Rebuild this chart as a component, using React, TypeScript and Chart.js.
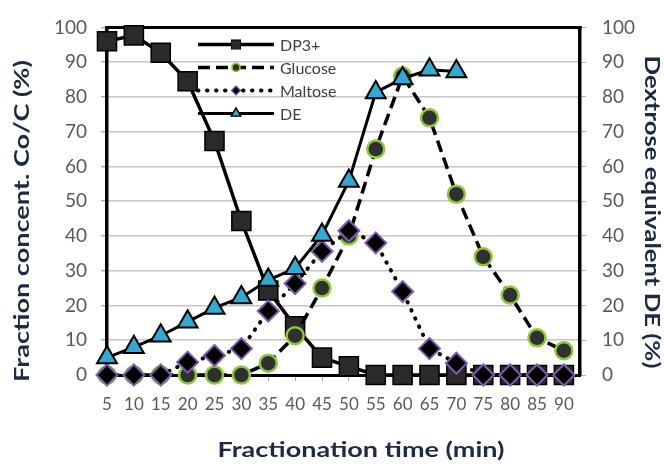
import { useEffect, useRef } from 'react';
import { Chart, registerables } from 'chart.js';

Chart.register(...registerables);

// ---- data ----
const times = [5, 10, 15, 20, 25, 30, 35, 40, 45, 50, 55, 60, 65, 70, 75, 80, 85, 90];
const dp3 = [96, 97.7, 92.7, 84.5, 67.3, 44.3, 24.3, 14, 5, 2.5, 0, 0, 0, 0, 0, 0, 0, 0];
const glucose = [0, 0, 0, 0, 0, 0, 3.4, 11.3, 25, 40, 65, 86, 74, 52, 34, 23, 10.7, 7];
const maltose = [0, 0, 0, 3.7, 5.6, 7.6, 18.4, 26.3, 35.6, 41.5, 38, 24, 7.6, 3.4, 0, 0, 0, 0];
const deTimes = [5, 10, 15, 20, 25, 30, 35, 40, 45, 50, 55, 60, 65, 70];
const de = [5, 8, 11.3, 15.3, 19.3, 22.3, 27.3, 30.7, 40.3, 55.8, 81.3, 85.3, 87.8, 87.3];
const seriesNames = ['DP3+', 'Glucose', 'Maltose', 'DE'];
const yTicks = [0, 10, 20, 30, 40, 50, 60, 70, 80, 90, 100];
const xTicks = times;
const xTitle = 'Fractionation time (min)';
const yTitle = 'Fraction concent. Co/C (%)';
const y2Title = 'Dextrose equivalent DE (%)';

const FONT = 'Lato';
const TITLE_COLOR = '#1e2a44';

function drawMarker(ctx: CanvasRenderingContext2D, ds: any, x: number, y: number, r: number) {
  ctx.save();
  ctx.fillStyle = ds.pointBackgroundColor;
  ctx.strokeStyle = ds.pointBorderColor;
  ctx.lineWidth = Math.max(1, ds.pointBorderWidth * 0.7);
  ctx.setLineDash([]);
  ctx.beginPath();
  const s = ds.pointStyle;
  if (s === 'rect') {
    ctx.rect(x - r, y - r, 2 * r, 2 * r);
  } else if (s === 'rectRot') {
    ctx.moveTo(x, y - r);
    ctx.lineTo(x + r, y);
    ctx.lineTo(x, y + r);
    ctx.lineTo(x - r, y);
    ctx.closePath();
  } else if (s === 'triangle') {
    ctx.moveTo(x, y - r);
    ctx.lineTo(x + r * 0.866, y + r * 0.5);
    ctx.lineTo(x - r * 0.866, y + r * 0.5);
    ctx.closePath();
  } else {
    ctx.arc(x, y, r, 0, Math.PI * 2);
  }
  ctx.fill();
  ctx.stroke();
  ctx.restore();
}

const framePlugin = {
  id: 'frame',
  beforeDatasetsDraw(chart: any) {
    const { ctx, chartArea } = chart;
    ctx.save();
    ctx.strokeStyle = '#000';
    ctx.lineWidth = 3;
    ctx.beginPath();
    ctx.moveTo(chartArea.left - 1.5, chartArea.top);
    ctx.lineTo(chartArea.right + 1.5, chartArea.top);
    ctx.stroke();
    ctx.restore();
  },
};

const legendPlugin = {
  id: 'inlineLegend',
  afterDraw(chart: any) {
    const { ctx, chartArea } = chart;
    const x0 = chartArea.left + 91;
    const x1 = chartArea.left + 167;
    const xm = (x0 + x1) / 2;
    const tx = x1 + 6;
    const rows = [17, 40, 63, 86];
    const sizes = [4.5, 4, 4.5, 5.5];
    chart.data.datasets.forEach((ds: any, i: number) => {
      const y = chartArea.top + rows[i];
      ctx.save();
      ctx.strokeStyle = ds.borderColor;
      ctx.lineWidth = ds.borderWidth;
      ctx.lineCap = ds.borderCapStyle || 'butt';
      ctx.setLineDash(ds.borderDash || []);
      ctx.beginPath();
      ctx.moveTo(x0, y);
      ctx.lineTo(x1, y);
      ctx.stroke();
      ctx.restore();
      drawMarker(ctx, ds, xm, y, sizes[i]);
      ctx.save();
      ctx.fillStyle = '#404040';
      ctx.font = `16px ${FONT}`;
      ctx.textAlign = 'left';
      ctx.textBaseline = 'middle';
      ctx.fillText(ds.label, tx, y + 1);
      ctx.restore();
    });
  },
};

const titlePlugin = {
  id: 'axisTitles',
  afterDraw(chart: any) {
    const { ctx } = chart;
    const draw = (text: string, cx: number, cy: number, rot: number, len: number, size: number) => {
      ctx.save();
      ctx.font = `bold ${size}px ${FONT}`;
      const w = ctx.measureText(text).width;
      ctx.translate(cx, cy);
      ctx.rotate(rot);
      ctx.scale(len / w, 1);
      ctx.textAlign = 'center';
      ctx.textBaseline = 'middle';
      ctx.fillStyle = TITLE_COLOR;
      ctx.fillText(text, 0, 0);
      ctx.restore();
    };
    draw(xTitle, 361, 450, 0, 287, 21);
    draw(yTitle, 22, 221, -Math.PI / 2, 322, 21);
    draw(y2Title, 652, 212, Math.PI / 2, 313, 21);
  },
};

export default function App() {
  const ref = useRef<HTMLCanvasElement | null>(null);

  useEffect(() => {
    if (!ref.current) return;
    const chart = new Chart(ref.current, {
      type: 'line',
      data: {
        datasets: [
          {
            label: seriesNames[0],
            data: times.map((t, i) => ({ x: t, y: dp3[i] })),
            yAxisID: 'y',
            borderColor: '#000',
            borderWidth: 3.5,
            pointStyle: 'rect',
            pointRadius: 13.5,
            pointBackgroundColor: '#2a2a2a',
            pointBorderColor: '#000',
            pointBorderWidth: 1.5,
            clip: false,
            order: 4,
          },
          {
            label: seriesNames[1],
            data: times.map((t, i) => ({ x: t, y: glucose[i] })),
            yAxisID: 'y',
            borderColor: '#000',
            borderWidth: 3.5,
            borderDash: [12, 6],
            pointStyle: 'circle',
            pointRadius: 8.5,
            pointBackgroundColor: '#303030',
            pointBorderColor: '#8dc63f',
            pointBorderWidth: 2.5,
            clip: false,
            order: 3,
          },
          {
            label: seriesNames[2],
            data: times.map((t, i) => ({ x: t, y: maltose[i] })),
            yAxisID: 'y',
            borderColor: '#000',
            borderWidth: 4,
            borderDash: [0.5, 8.5],
            borderCapStyle: 'round',
            pointStyle: 'rectRot',
            pointRadius: 10.5,
            pointBackgroundColor: '#000',
            pointBorderColor: '#7e5cb0',
            pointBorderWidth: 2,
            clip: false,
            order: 2,
          },
          {
            label: seriesNames[3],
            data: deTimes.map((t, i) => ({ x: t, y: de[i] })),
            yAxisID: 'y2',
            borderColor: '#000',
            borderWidth: 3,
            pointStyle: 'triangle',
            pointRadius: 11.5,
            pointBackgroundColor: '#35a7d0',
            pointBorderColor: '#000',
            pointBorderWidth: 2,
            clip: false,
            order: 1,
          },
        ],
      },
      options: {
        responsive: false,
        animation: false,
        events: [],
        layout: { padding: { top: 21, left: 0, right: 0, bottom: 0 } },
        plugins: {
          legend: { display: false },
          tooltip: { enabled: false },
          title: { display: false },
        },
        scales: {
          x: {
            type: 'linear',
            min: 5,
            max: 93,
            afterBuildTicks: (scale: any) => {
              scale.ticks = xTicks.map((v) => ({ value: v }));
            },
            afterFit: (scale: any) => {
              scale.height = 90;
            },
            grid: {
              drawOnChartArea: false,
              drawTicks: true,
              tickLength: 6,
              color: '#a6a6a6',
              lineWidth: 1,
            },
            border: { display: true, color: '#000', width: 3 },
            ticks: {
              autoSkip: false,
              maxRotation: 0,
              padding: 13,
              color: '#595959',
              font: { family: FONT, size: 17 },
              callback: (v: any) => String(v),
            },
          },
          y: {
            type: 'linear',
            position: 'left',
            min: 0,
            max: 100,
            afterBuildTicks: (scale: any) => {
              scale.ticks = yTicks.map((v) => ({ value: v }));
            },
            afterFit: (scale: any) => {
              scale.width = 107;
            },
            grid: {
              color: '#c6c6c6',
              lineWidth: 1.5,
              tickLength: 6,
              tickColor: '#b0b0b0',
            },
            border: { display: true, color: '#000', width: 3.5 },
            ticks: {
              padding: 14,
              color: '#595959',
              font: { family: FONT, size: 19 },
            },
          },
          y2: {
            type: 'linear',
            position: 'right',
            min: 0,
            max: 100,
            afterBuildTicks: (scale: any) => {
              scale.ticks = yTicks.map((v) => ({ value: v }));
            },
            afterFit: (scale: any) => {
              scale.width = 84;
            },
            grid: {
              drawOnChartArea: false,
              tickLength: 6,
              color: '#b0b0b0',
            },
            border: { display: true, color: '#000', width: 3.5 },
            ticks: {
              padding: 16,
              color: '#595959',
              font: { family: FONT, size: 19 },
            },
          },
        },
      },
      plugins: [framePlugin, legendPlugin, titlePlugin],
    } as any);
    return () => chart.destroy();
  }, []);

  return (
    <div style={{ position: 'fixed', left: 0, top: 0, width: 664, height: 465, background: '#fff' }}>
      <canvas ref={ref} width={664} height={465} />
    </div>
  );
}
